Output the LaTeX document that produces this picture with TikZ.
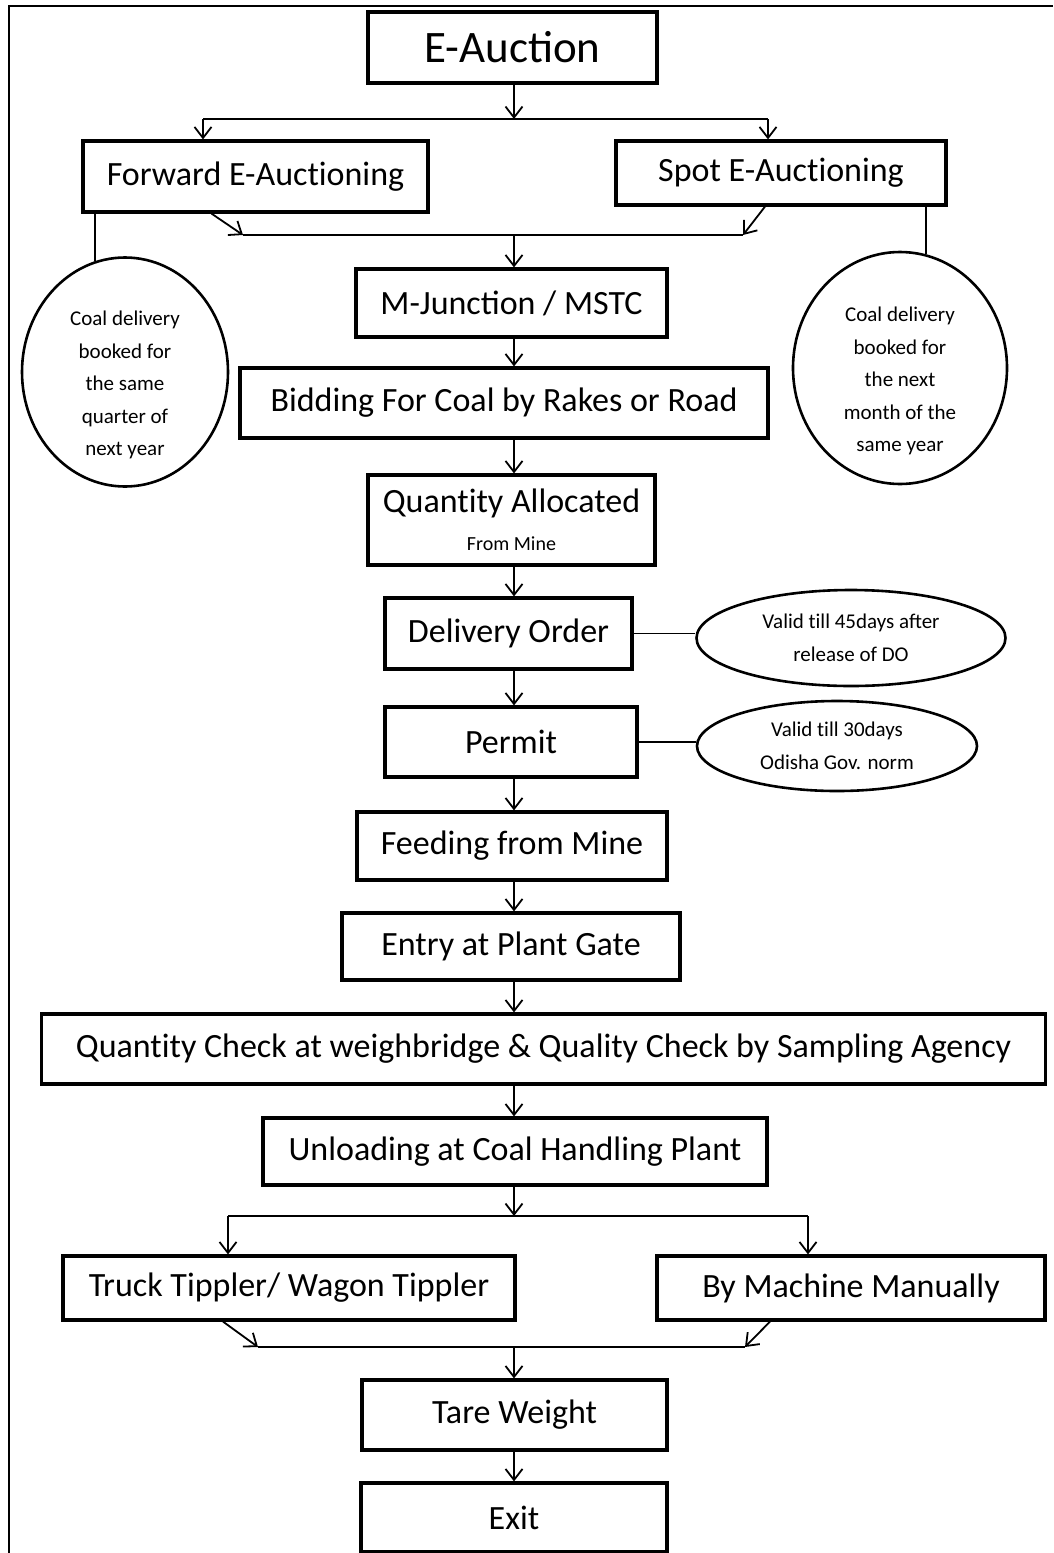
\documentclass[tikz,border=0pt]{standalone}
\usepackage{fontspec}
\setmainfont{Carlito}
\usetikzlibrary{arrows.meta,shapes.geometric}
% keep "t" and "i" as separate glyphs
\newcommand{\sep}{\kern0pt}

\begin{document}
\begin{tikzpicture}[x=1pt,y=-1pt,
  box/.style={draw, line width=3.2pt, inner sep=0pt, align=center,
              font=\fontsize{34}{40}\selectfont},
  note/.style={draw, ellipse, line width=2.6pt, inner sep=0pt},
  notetext/.style={inner sep=0pt, align=center, font=\fontsize{21}{32.5}\selectfont},
  flow/.style={line width=1.8pt,
               -{Straight Barb[length=11pt,width=17pt,line width=1.8pt]}},
  link/.style={line width=1.6pt}
]
\useasboundingbox (0,0) rectangle (1053,1553);

% page frame
\draw[line width=2.4pt] (9,1553) -- (9,6) -- (1053,6);

% main column of the flow
\coordinate (spine) at (514,0);

\node[box, minimum width=289pt, minimum height=71pt, font=\fontsize{45}{50}\selectfont]
  (auction) at (512.5,47.5) {E-Auction};
\node[box, minimum width=345pt, minimum height=71pt] (fwd) at (255.5,176.5) {Forward E-Auct\sep ioning};
\node[box, minimum width=330pt, minimum height=64pt] (spot) at (781,173) {Spot E-Auct\sep ioning};
\node[box, minimum width=311pt, minimum height=68pt] (mj) at (511.5,303) {M-Junction / MSTC};
\node[box, minimum width=528pt, minimum height=70pt] (bid) at (504,403) {Bidding For Coal by Rakes or Road};
\node[box, minimum width=287pt, minimum height=90pt] (qty) at (511.5,520)
  {Quant\sep ity Allocated\\[-2pt]{\fontsize{20}{24}\selectfont From Mine}};
\node[box, minimum width=247pt, minimum height=71pt] (deliv) at (508.5,633.5) {Delivery Order};
\node[box, minimum width=252pt, minimum height=70pt] (permit) at (511,742) {Permit};
\node[box, minimum width=310pt, minimum height=68pt] (feed) at (512,846) {Feeding from Mine};
\node[box, minimum width=338pt, minimum height=67pt] (entry) at (511,946.5) {Entry at Plant Gate};
\node[box, minimum width=1004pt, minimum height=70pt] (qcheck) at (543.5,1049)
  {Quant\sep ity Check at weighbridge \& Quality Check by Sampling Agency};
\node[box, minimum width=504pt, minimum height=67pt] (unload) at (515,1151.5) {Unloading at Coal Handling Plant};
\node[box, minimum width=452pt, minimum height=64pt] (truck) at (289,1288) {Truck Tippler/ Wagon Tippler};
\node[box, minimum width=388pt, minimum height=64pt] (machine) at (851,1288) {By Machine Manually};
\node[box, minimum width=305pt, minimum height=70pt] (tare) at (514.5,1415) {Tare Weight};
\node[box, minimum width=306pt, minimum height=69pt] (exit) at (514,1517.5) {Exit};

% side notes: the ellipse outlines and their texts
\node[note, minimum width=206pt, minimum height=229pt] (noteA) at (125,372) {};
\node[notetext] (noteAtext) at ([yshift=-13pt]noteA.center)
  {Coal delivery\\booked for\\the same\\quarter of\\next year};
\node[note, minimum width=214pt, minimum height=232pt] (noteB) at (900,368) {};
\node[notetext] (noteBtext) at ([yshift=-13pt]noteB.center)
  {Coal delivery\\booked for\\the next\\month of the\\same year};
\node[note, minimum width=309pt, minimum height=96pt] (noteC) at (851,638) {};
\node[notetext] (noteCtext) at (noteC.center) {Valid t\sep ill 45days after\\release of DO};
\node[note, minimum width=280pt, minimum height=90pt] (noteD) at (837,746) {};
\node[notetext] (noteDtext) at (noteD.center) {Valid t\sep ill 30days\\Odisha Gov. norm};

% split after E-Auction
\coordinate (s1)  at (514,119);
\coordinate (s1l) at (203,119);
\coordinate (s1r) at (768,119);
\draw[flow] (spine |- auction.south) -- (s1);
\draw[link] (s1l) -- (s1r);
\draw[flow] (s1l) -- (s1l |- fwd.north);
\draw[flow] (s1r) -- (s1r |- spot.north);

% merge into M-Junction
\coordinate (m1)  at (514,235);
\coordinate (m1l) at (243,235);
\coordinate (m1r) at (743,235);
\draw[flow] ([xshift=-44pt]fwd.south) -- (m1l);
\draw[flow] ([xshift=-16pt]spot.south) -- (m1r);
\draw[link] (m1l) -- (m1r);
\draw[flow] (m1) -- (spine |- mj.north);

% links to the side notes
\draw[link] (noteA.105 |- fwd.south) -- (noteA.105);
\draw[link] (noteB.77 |- spot.south) -- (noteB.77);
\draw[link] (deliv.east) -- (deliv.east -| noteC.west);
\draw[link] (permit.east) -- (permit.east -| noteD.west);

% main chain
\draw[flow] (spine |- mj.south) -- (spine |- bid.north);
\draw[flow] (spine |- bid.south) -- (spine |- qty.north);
\draw[flow] (spine |- qty.south) -- (spine |- deliv.north);
\draw[flow] (spine |- deliv.south) -- (spine |- permit.north);
\draw[flow] (spine |- permit.south) -- (spine |- feed.north);
\draw[flow] (spine |- feed.south) -- (spine |- entry.north);
\draw[flow] (spine |- entry.south) -- (spine |- qcheck.north);
\draw[flow] (spine |- qcheck.south) -- (spine |- unload.north);

% split after unloading
\coordinate (s2)  at (514,1216);
\coordinate (s2l) at (228,1216);
\coordinate (s2r) at (808,1216);
\draw[flow] (spine |- unload.south) -- (s2);
\draw[link] (s2l) -- (s2r);
\draw[flow] (s2l) -- (s2l |- truck.north);
\draw[flow] (s2r) -- (s2r |- machine.north);

% merge into tare weight
\coordinate (m2)  at (514,1347);
\coordinate (m2l) at (258,1347);
\coordinate (m2r) at (745,1347);
\draw[flow] ([xshift=-66pt]truck.south) -- (m2l);
\draw[flow] ([xshift=-81pt]machine.south) -- (m2r);
\draw[link] (m2l) -- (m2r);
\draw[flow] (m2) -- (spine |- tare.north);
\draw[flow] (spine |- tare.south) -- (spine |- exit.north);
\end{tikzpicture}
\end{document}
